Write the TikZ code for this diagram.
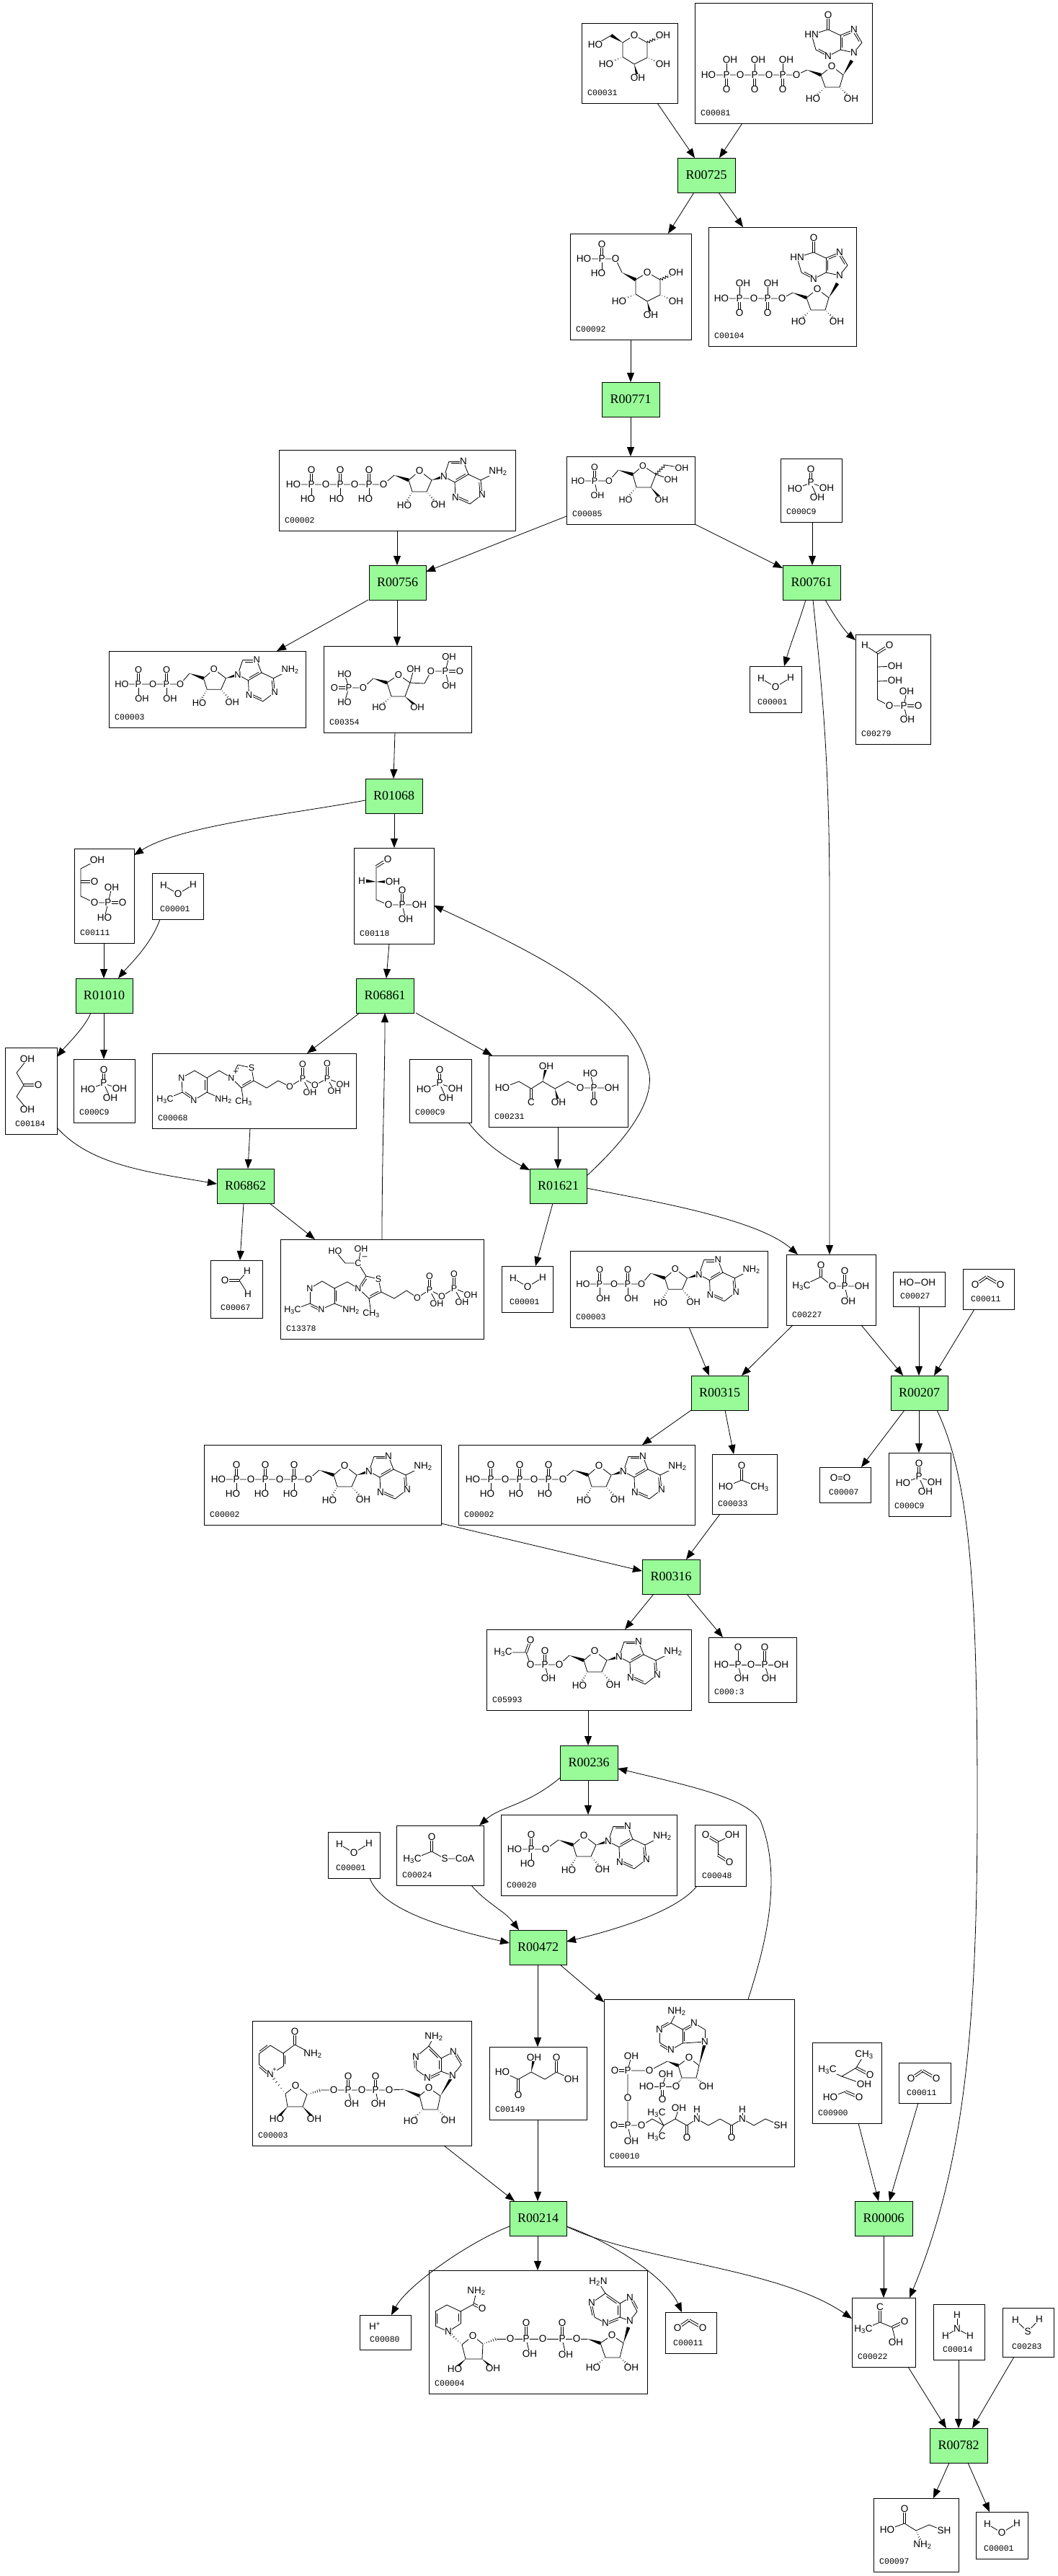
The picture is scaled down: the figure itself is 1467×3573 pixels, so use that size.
\documentclass[tikz,border=0pt]{standalone}
\usepackage{fontspec}
\setmainfont{Liberation Sans}
\newfontfamily\lblfont{Liberation Mono}
\newfontfamily\rxnfont{Liberation Serif}
\usetikzlibrary{arrows.meta,calc,decorations.pathmorphing}
\def\atfs{13.5}
\newcount\atomno
\tikzset{
 cbox/.style={draw=black,line width=1pt,fill=white,inner sep=0pt,outer sep=0pt},
 rbox/.style={draw=black,line width=1pt,fill=rgreen,inner sep=0pt,outer sep=0pt,minimum width=80pt,minimum height=48pt,font=\rxnfont\fontsize{18}{18}\selectfont},
 clabel/.style={anchor=west,inner sep=0pt,font=\lblfont\fontsize{11.5}{11.5}\selectfont},
 atom/.style={fill=white,inner sep=.5pt,font=\fontsize{\atfs}{\atfs}\selectfont},
 bond/.style={line width=.8pt,black},
 arr/.style={line width=.8pt,black,-{Triangle[length=13pt,width=10pt]}},
}
\definecolor{rgreen}{HTML}{98FB98}
\newcommand\atm[3]{\global\advance\atomno by 1 \node[atom] (at\the\atomno) at (#1,#2) {#3};}
\newcommand\mbd[2]{\draw[bond] (#1) -- (#2);}
\newcommand\mln[1]{\draw[bond] #1;}
\newcommand\mdb[2]{\draw[bond] ($(#1)!1.5pt!90:(#2)$) -- ($(#2)!1.5pt!-90:(#1)$);\draw[bond] ($(#1)!1.5pt!-90:(#2)$) -- ($(#2)!1.5pt!90:(#1)$);}
\newcommand\mds[2]{\draw[bond] (#1) -- (#2);\draw[bond] ($(#1)!.15!(#2)!2.6pt!-90:(#2)$) -- ($(#1)!.85!(#2)!2.6pt!-90:(#2)$);}
\newcommand\mwd[2]{\fill[black] (#1) -- ($(#2)!2.4pt!90:(#1)$) -- ($(#2)!2.4pt!-90:(#1)$) -- cycle;}
\newcommand\mhs[2]{\foreach \mt/\mw in {.12/.4,.28/.8,.44/1.2,.6/1.6,.76/2,.92/2.4}{\draw[line width=.6pt] ($(#1)!\mt!(#2)!\mw pt!90:(#2)$) -- ($(#1)!\mt!(#2)!\mw pt!-90:(#2)$);}}
\newcommand\mwv[2]{\draw[bond,decorate,decoration={zigzag,amplitude=1.6pt,segment length=4pt}] (#1) -- (#2);}
\newcommand\cpd[7][8]{}
\renewcommand\cpd[8][8]{\node[cbox,minimum width=#5pt,minimum height=#6pt] (#2) at ({#3+#5/2},{#4+#6/2}) {};
 \node[clabel] (#2l) at ({#3+#1},{#4+#6-14.5}) {#7};
 \begin{scope}[shift={(#3,#4)}]#8\end{scope}}
\newcommand\rxn[4]{\node[rbox,minimum width=#4pt] (#1) at ({#3+#4/2},{#2}) {#1};}
% phosphate helpers
\newcommand\phHO[2]{\begin{scope}[shift={(#1,#2)}]\mdb{0,0}{0,-20}\mbd{0,0}{0,20}\atm{0}{-20}{O}\atm{-5}{20}{HO}\atm{0}{0}{P}\end{scope}}
\newcommand\phOH[2]{\begin{scope}[shift={(#1,#2)}]\mdb{0,0}{0,-20}\mbd{0,0}{0,20}\atm{0}{-20}{O}\atm{5}{20}{OH}\atm{0}{0}{P}\end{scope}}
\newcommand\phI[2]{\begin{scope}[shift={(#1,#2)}]\mdb{0,0}{0,20}\mbd{0,0}{0,-20}\atm{0}{20}{O}\atm{5}{-21}{OH}\atm{0}{0}{P}\end{scope}}
% adenosine, origin at CH2
\newcommand\ado{\mln{(20,7)--(35,-6)--(52,7)--(45,23)--(25,23)--cycle}
 \mwd{0,0}{20,7}\mwd{52,7}{69,2}\mhs{25,23}{14,42}\mhs{45,23}{61,41}
 \mbd{69,2}{76,-19}\mds{76,-19}{96,-19}\mbd{96,-19}{103,-1}\mds{103,-1}{84,10}\mbd{84,10}{69,2}
 \mbd{103,-1}{120,7}\mds{120,7}{122,27}\mbd{122,27}{105,40}\mds{105,40}{85,31}\mbd{85,31}{84,10}\mbd{120,7}{144,-5}
 \atm{35}{-6}{O}\atm{14}{42}{HO}\atm{61}{41}{OH}\atm{69}{2}{N}\atm{96}{-19}{N}\atm{122}{27}{N}\atm{85}{31}{N}\atm{144}{-5}{NH\textsubscript{2}}}
% inosine, origin at CH2
\newcommand\ino{\mln{(19,7)--(34,-5)--(50,7)--(45,24)--(25,24)--cycle}
 \mwd{0,0}{19,7}\mwd{50,7}{62,-13}\mhs{25,24}{8,40}\mhs{45,24}{61,40}
 \mbd{29,-56}{6,-49}\mbd{6,-49}{12,-28}\mds{29,-19}{12,-28}\mbd{29,-19}{46,-28}\mds{46,-28}{46,-48}\mbd{46,-48}{29,-56}
 \mds{46,-48}{65,-56}\mds{65,-56}{76,-38}\mbd{76,-38}{65,-24}\mbd{65,-24}{46,-28}\mdb{29,-56}{29,-76}
 \atm{34}{-5}{O}\atm{8}{40}{HO}\atm{61}{40}{OH}\atm{29}{-76}{O}\atm{6}{-49}{HN}\atm{29}{-19}{N}\atm{65}{-56}{N}\atm{65}{-24}{N}}
% glucose ring, origin at C5
\newcommand\glc{\mln{(0,0)--(16,-10)--(34,0)--(34,21)--(16,30)--(0,20)--cycle}
 \mwv{34,0}{56,-10}\mhs{34,21}{56,30}\mwd{16,30}{21,49}\mhs{0,20}{-23,30}
 \atm{16}{-10}{O}\atm{56}{-10}{OH}\atm{56}{30}{OH}\atm{21}{49}{OH}\atm{-23}{30}{HO}}
\newcommand\molW{\mln{(16,17)--(36,29)--(57,16)}\atm{16}{17}{H}\atm{36}{29}{O}\atm{57}{16}{H}}
\newcommand\molCO{\mdb{17,22}{33,11}\mdb{33,11}{52,22}\atm{17}{22}{O}\atm{52}{22}{O}}
\newcommand\molPi{\mdb{42,34}{42,15}\mbd{42,34}{20,42}\mbd{42,34}{64,41}\mbd{42,34}{51,54}\atm{42}{15}{O}\atm{20}{42}{HO}\atm{64}{41}{OH}\atm{51}{54}{OH}\atm{42}{33}{P}}
\newcommand\molATP{\mln{(20,48)--(145,48)--(160,35)}\phHO{45}{48}\phHO{85}{48}\phHO{125}{48}\atm{20}{48}{HO}\atm{65}{48}{O}\atm{105}{48}{O}\atm{145}{48}{O}\begin{scope}[shift={(160,35)}]\ado\end{scope}}
\newcommand\molADP{\def\atfs{12.8}\mln{(18,46)--(99,46)--(112,31)}\phOH{41}{46}\phOH{80}{46}\atm{18}{46}{HO}\atm{61}{46}{O}\atm{99}{46}{O}\begin{scope}[shift={(112,31)},scale=.97]\ado\end{scope}}
\begin{document}
\begin{tikzpicture}[x=1pt,y=-1pt]
\useasboundingbox (0,0) rectangle (1467,3573);
\fill[white] (0,0) rectangle (1467,3573);
% ---- compounds
\cpd{c31}{807}{33}{133}{110}{C00031}{\mwd{57,26}{41,16}\mbd{41,16}{19,29}\begin{scope}[shift={(57,26)}]\glc\end{scope}\atm{19}{29}{HO}}
\cpd{c81}{964}{5}{246}{166}{C00081}{\mln{(19,99)--(141,99)--(156,92)}\phI{44}{99}\phI{83}{99}\phI{122}{99}\atm{19}{99}{HO}\atm{63}{99}{O}\atm{103}{99}{O}\atm{141}{99}{O}\begin{scope}[shift={(156,92)}]\ino\end{scope}}
\rxn{R00725}{243}{940}{80}
\cpd{c92}{791}{324}{168}{147}{C00092}{\mln{(19,35)--(63,35)--(72,54)}\phHO{44}{35}\mwd{72,54}{91,64}\begin{scope}[shift={(91,64)}]\glc\end{scope}\atm{19}{35}{HO}\atm{63}{35}{O}}
\cpd{c104}{983}{315}{205}{165}{C00104}{\mln{(18,99)--(102,99)--(117,91)}\phI{43}{99}\phI{82}{99}\atm{18}{99}{HO}\atm{63}{99}{O}\atm{102}{99}{O}\begin{scope}[shift={(117,91)}]\ino\end{scope}}
\rxn{R00771}{554}{835}{80}
\cpd{c2a}{387}{624}{328}{112}{C00002}{\molATP}
\cpd{c85}{786}{633}{178}{94}{C00085}{\def\atfs{12.5}\mln{(16,34)--(59,34)--(72,19)}\mdb{39,34}{39,15}\mbd{39,34}{43,54}
 \mwd{72,19}{92,25}\mln{(92,25)--(106,13)--(124,25)--(117,43)--(97,43)--cycle}\mwv{124,25}{137,12}\mbd{137,12}{160,16}\mbd{124,25}{145,32}\mwd{117,43}{132,60}\mhs{97,43}{82,60}
 \atm{16}{34}{HO}\atm{39}{34}{P}\atm{39}{15}{O}\atm{43}{54}{OH}\atm{59}{34}{O}\atm{106}{13}{O}\atm{160}{16}{OH}\atm{145}{32}{OH}\atm{132}{60}{OH}\atm{82}{60}{HO}}
\cpd{c9a}{1083}{636}{85}{88}{C000C9}{\molPi}
\rxn{R00756}{808}{512}{79}
\rxn{R00761}{808}{1086}{80}
\cpd{c3a}{151}{903}{273}{106}{C00003}{\molADP}
\cpd{c354}{449}{896}{205}{120}{C00354}{\def\atfs{13}\mln{(29,39)--(35,58)--(29,78)}\mdb{35,58}{15,58}\mln{(35,58)--(55,58)--(69,45)}\mwd{69,45}{88,51}\mln{(88,51)--(104,40)--(120,51)--(113,70)--(94,70)--cycle}\mbd{120,51}{125,32}\mln{(120,51)--(140,52)--(149,35)--(169,35)}\mbd{169,35}{174,15}\mbd{169,35}{174,55}\mdb{169,35}{189,35}\mwd{113,70}{130,85}\mhs{94,70}{77,85}
 \atm{29}{39}{HO}\atm{35}{58}{P}\atm{15}{58}{O}\atm{29}{78}{HO}\atm{55}{58}{O}\atm{104}{40}{O}\atm{125}{32}{OH}\atm{149}{35}{O}\atm{169}{35}{P}\atm{174}{15}{OH}\atm{189}{35}{O}\atm{174}{55}{OH}\atm{130}{85}{OH}\atm{77}{85}{HO}}
\cpd[11]{c1a}{1040}{924}{72}{64}{C00001}{\molW}
\cpd{c279}{1187}{880}{104}{152}{C00279}{\mbd{13,15}{30,26}\mdb{30,26}{47,15}\mbd{30,26}{30,90}\mbd{30,45}{55,44}\mbd{30,65}{55,64}\mln{(30,90)--(47,99)--(67,99)}\mdb{67,99}{87,99}\mbd{67,99}{71,79}\mbd{67,99}{72,118}
 \atm{13}{15}{H}\atm{47}{15}{O}\atm{55}{44}{OH}\atm{55}{64}{OH}\atm{47}{99}{O}\atm{67}{99}{P}\atm{87}{99}{O}\atm{71}{79}{OH}\atm{72}{118}{OH}}
\rxn{R01068}{1104}{507}{79}
\cpd{c111}{103}{1177}{83}{131}{C00111}{\mln{(32,16)--(9,28)--(9,66)--(28,75)--(47,75)}\mdb{9,46}{28,46}\mdb{47,75}{67,75}\mbd{47,75}{52,54}\mbd{47,75}{42,96}
 \atm{32}{16}{OH}\atm{28}{46}{O}\atm{28}{75}{O}\atm{47}{75}{P}\atm{67}{75}{O}\atm{52}{54}{OH}\atm{42}{96}{HO}}
\cpd[11]{c1b}{211}{1211}{71}{64}{C00001}{\molW}
\cpd{c118}{491}{1176}{111}{133}{C00118}{\mdb{31,26}{47,16}\mln{(31,26)--(31,72)--(48,79)--(67,79)--(91,79)}\mwd{31,47}{17,46}\mwd{31,47}{46,47}\mdb{67,79}{67,59}\mbd{67,79}{72,99}
 \atm{47}{16}{O}\atm{11}{46}{H}\atm{54}{47}{OH}\atm{48}{79}{O}\atm{67}{79}{P}\atm{67}{59}{O}\atm{91}{79}{OH}\atm{72}{99}{OH}}
\rxn{R01010}{1381}{105}{79}
\rxn{R06861}{1381}{494}{80}
\cpd[14]{c184}{7}{1453}{72}{120}{C00184}{\mln{(31,16)--(16,35)--(26,52)--(16,68)--(31,86)}\mdb{26,52}{46,52}\atm{31}{16}{OH}\atm{46}{52}{O}\atm{31}{86}{OH}}
\cpd{c9b}{102}{1469}{85}{88}{C000C9}{\molPi}
\cpd{c68}{211}{1461}{283}{104}{C00068}{\def\atfs{12.5}\mln{(41,34)--(59,24)}\mbd{59,24}{76,34}\mds{76,34}{76,54}\mln{(76,54)--(58,65)}\mds{58,65}{42,54}\mbd{42,54}{41,34}\mbd{42,54}{18,64}\mbd{76,54}{99,64}\mln{(76,34)--(93,24)--(110,34)}\mds{110,34}{119,16}\mln{(119,16)--(138,20)--(141,38)}\mds{141,38}{124,48}\mbd{124,48}{110,34}\mbd{124,48}{127,67}\mln{(141,38)--(159,48)--(175,38)--(191,46)--(209,35)--(226,44)--(243,35)--(265,43)}\mdb{209,35}{209,15}\mbd{209,35}{219,54}\mdb{243,35}{243,14}\mbd{243,35}{253,52}
 \atm{41}{34}{N}\atm{58}{65}{N}\atm{18}{64}{H\textsubscript{3}C}\atm{99}{64}{NH\textsubscript{2}}\atm{110}{34}{N}\atm{116}{26}{+}\atm{138}{20}{S}\atm{127}{67}{CH\textsubscript{3}}\atm{191}{46}{O}\atm{209}{35}{P}\atm{209}{15}{O}\atm{219}{54}{OH}\atm{226}{44}{O}\atm{243}{35}{P}\atm{243}{14}{O}\atm{253}{52}{OH}\atm{265}{43}{OH}}
\cpd{c9c}{568}{1469}{86}{88}{C000C9}{\molPi}
\cpd{c231}{678}{1464}{193}{99}{C00231}{\mln{(19,45)--(42,36)--(59,46)--(75,36)--(92,46)--(110,36)--(127,45)--(146,45)--(171,45)}\mdb{59,46}{59,65}\mwd{75,36}{80,15}\mwd{92,46}{97,65}\mbd{146,45}{141,25}\mdb{146,45}{146,65}
 \atm{19}{45}{HO}\atm{59}{65}{C}\atm{80}{15}{OH}\atm{97}{65}{OH}\atm{127}{45}{O}\atm{146}{45}{P}\atm{141}{25}{HO}\atm{171}{45}{OH}\atm{146}{65}{O}}
\rxn{R06862}{1645}{301}{79}
\rxn{R01621}{1645}{735}{79}
\cpd[14]{c67}{292}{1748}{72}{80}{C00067}{\mdb{20,28}{40,28}\mbd{40,28}{51,15}\mbd{40,28}{52,47}\atm{20}{28}{O}\atm{51}{15}{H}\atm{52}{47}{H}}
\cpd{c13378}{389}{1719}{282}{138}{C13378}{\def\atfs{12.5}\mln{(76,16)--(90,33)--(108,33)--(112,13)}\mln{(108,33)--(119,51)--(136,55)--(140,73)}\mds{140,73}{123,82}\mbd{123,82}{108,68}\mds{108,68}{119,51}\mbd{123,82}{126,103}\mln{(108,68)--(93,59)--(75,68)}\mbd{75,68}{58,58}\mbd{58,58}{41,68}\mds{75,89}{75,68}\mbd{41,68}{41,89}\mds{41,89}{57,97}\mbd{57,97}{75,89}\mbd{41,89}{17,98}\mbd{75,89}{98,98}\mln{(140,73)--(158,82)--(175,71)--(190,81)--(207,70)--(224,79)--(241,68)--(264,77)}\mdb{207,70}{207,51}\mbd{207,70}{217,89}\mdb{241,68}{241,48}\mbd{241,68}{252,87}
 \atm{76}{16}{HO}\atm{112}{13}{OH}\atm{108}{33}{C}\atm{117}{26}{–}\atm{136}{55}{S}\atm{108}{68}{N}\atm{126}{103}{CH\textsubscript{3}}\atm{41}{68}{N}\atm{57}{97}{N}\atm{17}{98}{H\textsubscript{3}C}\atm{98}{98}{NH\textsubscript{2}}\atm{190}{81}{O}\atm{207}{70}{P}\atm{207}{51}{O}\atm{217}{89}{OH}\atm{224}{79}{O}\atm{241}{68}{P}\atm{241}{48}{O}\atm{252}{87}{OH}\atm{264}{77}{OH}}
\cpd[11]{c1c}{696}{1756}{71}{64}{C00001}{\molW}
\cpd{c3b}{791}{1735}{274}{106}{C00003}{\molADP}
\cpd{c227}{1091}{1740}{124}{98}{C00227}{\mln{(21,44)--(48,31)--(64,44)--(105,44)}\mdb{48,31}{48,15}\mdb{81,44}{81,23}\mbd{81,44}{86,65}\atm{21}{44}{H\textsubscript{3}C}\atm{48}{15}{O}\atm{64}{44}{O}\atm{81}{44}{P}\atm{81}{23}{O}\atm{105}{44}{OH}\atm{86}{65}{OH}}
\cpd[10]{c27}{1239}{1764}{72}{48}{C00027}{\mbd{22,15}{46,15}\atm{19}{15}{HO}\atm{49}{15}{OH}}
\cpd[11]{c11a}{1336}{1760}{71}{56}{C00011}{\molCO}
\rxn{R00315}{1932}{959}{79}
\rxn{R00207}{1932}{1236}{79}
\cpd{c2b}{283}{2004}{329}{111}{C00002}{\molATP}
\cpd{c2c}{636}{2004}{328}{111}{C00002}{\molATP}
\cpd{c33}{988}{2017}{90}{83}{C00033}{\mdb{41,36}{41,16}\mbd{41,36}{19,45}\mbd{41,36}{66,46}\atm{41}{16}{O}\atm{19}{45}{HO}\atm{66}{46}{CH\textsubscript{3}}}
\cpd[13]{c7}{1137}{2035}{71}{49}{C00007}{\mdb{22,15}{36,15}\atm{20}{15}{O}\atm{38}{15}{O}}
\cpd{c9d}{1233}{2015}{86}{88}{C000C9}{\molPi}
\rxn{R00316}{2187}{891}{80}
\cpd{c5993}{675}{2260}{284}{112}{C05993}{\mln{(23,32)--(55,32)--(61,49)--(101,49)--(115,36)}\mdb{55,32}{61,15}\mdb{81,49}{81,30}\mbd{81,49}{86,68}\atm{23}{32}{H\textsubscript{3}C}\atm{61}{15}{O}\atm{61}{49}{O}\atm{81}{49}{P}\atm{81}{30}{O}\atm{86}{68}{OH}\atm{101}{49}{O}\begin{scope}[shift={(115,36)}]\ado\end{scope}}
\cpd{c13}{983}{2271}{122}{90}{C000:3}{\mln{(18,38)--(101,38)}\mbd{41,38}{41,14}\mbd{41,38}{46,57}\mdb{78,38}{78,14}\mbd{78,38}{84,57}\atm{18}{38}{HO}\atm{41}{38}{P}\atm{41}{14}{O}\atm{46}{57}{OH}\atm{59}{38}{O}\atm{78}{38}{P}\atm{78}{14}{O}\atm{101}{38}{OH}\atm{84}{57}{OH}}
\rxn{R00236}{2445}{777}{80}
\cpd[11]{c1d}{455}{2541}{72}{64}{C00001}{\molW}
\cpd{c24}{550}{2532}{121}{83}{C00024}{\mdb{49,36}{49,16}\mbd{49,36}{22,47}\mln{(49,36)--(67,46)--(95,46)}\atm{49}{16}{O}\atm{22}{47}{H\textsubscript{3}C}\atm{67}{46}{S}\atm{95}{46}{CoA}}
\cpd{c20}{695}{2517}{244}{112}{C00020}{\mln{(19,48)--(62,48)--(80,35)}\phHO{42}{48}\atm{19}{48}{HO}\atm{62}{48}{O}\begin{scope}[shift={(80,35)}]\ado\end{scope}}
\cpd[10]{c48}{964}{2531}{71}{85}{C00048}{\mdb{15,14}{32,24}\mbd{32,24}{52,14}\mbd{32,24}{32,42}\mdb{32,42}{48,52}\atm{15}{14}{O}\atm{52}{14}{OH}\atm{48}{52}{O}}
\rxn{R00472}{2701}{707}{79}
\cpd{c3c}{350}{2803}{304}{173}{C00003}{\mdb{59,33}{59,15}\mbd{59,33}{84,46}\mbd{59,33}{43,45}
 \mln{(43,45)--(25,34)}\mds{25,34}{9,46}\mbd{9,46}{9,60}\mds{9,60}{25,74}\mbd{25,74}{43,63}\mds{43,63}{43,45}
 \mhs{46,101}{25,74}\mln{(46,101)--(60,90)--(76,102)--(70,119)--(49,119)--cycle}\mwd{49,119}{34,136}\mwd{70,119}{86,136}\mhs{76,102}{95,96}
 \mln{(95,96)--(190,96)--(210,95)}\mdb{133,96}{133,77}\mbd{133,96}{138,115}\mdb{171,96}{171,77}\mbd{171,96}{175,115}
 \mwd{210,95}{232,104}\mln{(232,104)--(245,93)--(261,104)--(257,123)--(237,123)--cycle}\mhs{237,123}{220,139}\mhs{257,123}{272,138}\mwd{261,104}{278,76}
 \mbd{252,22}{245,35}\mds{245,35}{262,52}\mds{262,52}{262,70}\mbd{245,35}{227,50}\mds{227,50}{228,68}\mbd{228,68}{243,79}\mds{243,79}{262,70}\mbd{262,70}{278,76}\mbd{278,76}{290,61}\mds{290,61}{279,43}\mbd{279,43}{262,52}
 \atm{59}{15}{O}\atm{84}{46}{NH\textsubscript{2}}\atm{25}{74}{N}\atm{31}{68}{\fontsize{9}{9}\selectfont +}\atm{60}{90}{O}\atm{34}{136}{HO}\atm{86}{136}{OH}\atm{113}{96}{O}\atm{133}{96}{P}\atm{133}{77}{O}\atm{138}{115}{OH}\atm{152}{96}{O}\atm{171}{96}{P}\atm{171}{77}{O}\atm{175}{115}{OH}\atm{190}{96}{O}\atm{245}{93}{O}\atm{220}{139}{HO}\atm{272}{138}{OH}\atm{278}{76}{N}\atm{252}{22}{NH\textsubscript{2}}\atm{227}{50}{N}\atm{243}{79}{N}\atm{279}{43}{N}}
\cpd{c149}{679}{2839}{135}{101}{C00149}{\mln{(18,35)--(40,45)--(58,35)--(77,45)--(93,35)--(114,45)}\mdb{40,45}{40,67}\mwd{58,35}{62,15}\mdb{93,35}{93,15}\atm{18}{35}{HO}\atm{40}{67}{O}\atm{62}{15}{OH}\atm{93}{15}{O}\atm{114}{45}{OH}}
\cpd{c10}{838}{2773}{264}{232}{C00010}{\mbd{101,17}{93,33}\mds{93,33}{77,42}\mbd{77,42}{77,60}\mds{77,60}{93,70}\mbd{93,70}{109,61}\mds{109,61}{109,42}\mbd{109,42}{93,33}\mds{109,42}{125,33}\mbd{125,33}{140,42}\mbd{140,42}{140,59}\mbd{140,59}{109,61}
 \mwd{132,92}{140,61}\mln{(132,92)--(118,81)--(103,92)--(108,109)--(128,109)--cycle}\mhs{128,109}{142,121}\mhs{108,109}{100,121}\mln{(100,121)--(59,121)}\mbd{81,121}{86,104}\mdb{81,121}{81,139}\mwd{88,86}{103,92}\mln{(88,86)--(63,99)--(33,99)--(33,175)}\mdb{33,99}{15,99}\mbd{33,99}{38,79}\mdb{33,175}{14,175}\mbd{33,175}{38,197}\mln{(33,175)--(52,175)--(67,166)--(83,175)--(99,166)--(115,175)--(129,166)--(145,175)--(161,166)--(177,175)--(192,166)--(208,175)--(224,166)--(245,175)}\mbd{83,175}{73,158}\mbd{83,175}{73,191}\mbd{99,166}{104,151}\mdb{115,175}{115,192}\mdb{177,175}{177,192}\mbd{129,166}{129,153}\mbd{192,166}{192,153}
 \atm{101}{17}{NH\textsubscript{2}}\atm{77}{42}{N}\atm{93}{70}{N}\atm{125}{33}{N}\atm{140}{59}{N}\atm{118}{81}{O}\atm{142}{121}{OH}\atm{100}{121}{O}\atm{81}{121}{P}\atm{59}{121}{HO}\atm{86}{104}{OH}\atm{81}{139}{O}\atm{63}{99}{O}\atm{33}{99}{P}\atm{15}{99}{O}\atm{38}{79}{OH}\atm{33}{137}{O}\atm{33}{175}{P}\atm{14}{175}{O}\atm{38}{197}{OH}\atm{52}{175}{O}\atm{73}{158}{H\textsubscript{3}C}\atm{73}{191}{H\textsubscript{3}C}\atm{104}{151}{OH}\atm{115}{192}{O}\atm{129}{166}{N}\atm{129}{153}{H}\atm{177}{192}{O}\atm{192}{166}{N}\atm{192}{153}{H}\atm{245}{175}{SH}}
\cpd{c900}{1127}{2833}{96}{112}{C00900}{\mln{(21,38)--(41,47)--(61,35)--(72,17)}\mbd{41,47}{72,58}\mdb{61,35}{80,45}\mbd{25,76}{46,68}\mdb{46,68}{65,76}\atm{21}{38}{H\textsubscript{3}C}\atm{72}{17}{CH\textsubscript{3}}\atm{80}{45}{O}\atm{72}{58}{OH}\atm{25}{76}{HO}\atm{65}{76}{O}}
\cpd[11]{c11b}{1247}{2861}{72}{56}{C00011}{\molCO}
\rxn{R00214}{3077}{707}{79}
\rxn{R00006}{3077}{1186}{80}
\cpd[14]{c80}{499}{3211}{71}{48}{C00080}{\atm{21}{15}{H\textsuperscript{+}}}
\cpd{c4}{595}{3149}{303}{171}{C00004}{\mbd{235,16}{245,32}\mds{245,32}{265,46}\mds{265,46}{265,65}\mbd{245,32}{226,45}\mds{226,45}{230,65}\mbd{230,65}{245,73}\mds{245,73}{265,65}\mbd{265,65}{279,70}\mbd{279,70}{289,57}\mds{289,57}{279,38}\mbd{279,38}{265,46}
 \mwd{270,101}{277,79}\mln{(270,101)--(254,90)--(238,101)--(245,121)--(265,121)--cycle}\mhs{245,121}{228,135}\mhs{265,121}{281,135}\mwd{220,95}{238,101}\mln{(220,95)--(94,95)}\mdb{185,95}{185,73}\mbd{185,95}{190,117}\mdb{135,95}{135,73}\mbd{135,95}{140,116}\mhs{75,102}{94,95}
 \mln{(75,102)--(61,91)--(46,103)--(51,123)--(74,123)--cycle}\mwd{51,123}{36,137}\mwd{74,123}{89,136}\mhs{46,103}{27,85}\mbd{27,85}{9,77}\mds{9,77}{9,57}\mbd{9,57}{25,48}\mbd{25,48}{44,57}\mds{44,57}{44,74}\mbd{44,74}{27,85}\mbd{44,57}{62,47}\mdb{62,47}{74,53}\mbd{62,47}{66,29}
 \atm{235}{16}{H\textsubscript{2}N}\atm{226}{45}{N}\atm{245}{73}{N}\atm{279}{38}{N}\atm{279}{70}{N}\atm{254}{90}{O}\atm{228}{135}{HO}\atm{281}{135}{OH}\atm{205}{95}{O}\atm{185}{95}{P}\atm{185}{73}{O}\atm{190}{117}{OH}\atm{158}{95}{O}\atm{135}{95}{P}\atm{135}{73}{O}\atm{140}{116}{OH}\atm{113}{95}{O}\atm{61}{91}{O}\atm{36}{137}{HO}\atm{89}{136}{OH}\atm{27}{85}{N}\atm{74}{53}{O}\atm{66}{29}{NH\textsubscript{2}}}
\cpd[11]{c11c}{923}{3207}{71}{57}{C00011}{\molCO}
\cpd{c22}{1182}{3187}{88}{96}{C00022}{\mdb{39,34}{39,13}\mbd{39,34}{16,44}\mbd{39,34}{56,41}\mdb{56,41}{73,33}\mbd{56,41}{61,62}\atm{39}{13}{C}\atm{16}{44}{H\textsubscript{3}C}\atm{73}{33}{O}\atm{61}{62}{OH}}
\cpd[13]{c14}{1295}{3196}{71}{77}{C00014}{\mbd{33,34}{33,15}\mbd{33,34}{17,44}\mbd{33,34}{51,44}\atm{33}{15}{H}\atm{33}{34}{N}\atm{17}{44}{H}\atm{51}{44}{H}}
\cpd[13]{c283}{1391}{3201}{71}{68}{C00283}{\mln{(18,17)--(35,33)--(51,16)}\atm{18}{17}{H}\atm{35}{33}{S}\atm{51}{16}{H}}
\rxn{R00782}{3392}{1290}{80}
\cpd{c97}{1212}{3465}{118}{102}{C00097}{\mdb{43,35}{43,15}\mbd{43,35}{19,44}\mbd{43,35}{59,45}\mhs{59,45}{68,65}\mln{(59,45)--(77,37)--(98,45)}\atm{43}{15}{O}\atm{19}{44}{HO}\atm{68}{65}{NH\textsubscript{2}}\atm{98}{45}{SH}}
\cpd[11]{c1e}{1354}{3484}{72}{65}{C00001}{\molW}
% ---- connectors
\draw[arr] (912,0 |- c31.south) -- (964,0 |- R00725.north);
\draw[arr] (1030,0 |- c81.south) -- (998,0 |- R00725.north);
\draw[arr] (963,0 |- R00725.south) -- (927,0 |- c92.north);
\draw[arr] (997,0 |- R00725.south) -- (1031,0 |- c104.north);
\draw[arr] (c92.south) -- (R00771.north);
\draw[arr] (R00771.south) -- (c85.north);
\draw[arr] (551,0 |- c2a.south) -- (551,0 |- R00756.north);
\draw[arr] (c85.west |- 0,716) -- (R00756.east |- 0,793);
\draw[arr] (511,0 |- R00756.south) -- (384,0 |- c3a.north);
\draw[arr] (551,0 |- R00756.south) -- (551,0 |- c354.north);
\draw[arr] (964,0 |- c85.south) -- (R00761.west |- 0,788);
\draw[arr] (1127,0 |- c9a.south) -- (1127,0 |- R00761.north);
\draw[arr] (1118,0 |- R00761.south) .. controls (1108,865) and (1098,890) .. (1088,0 |- c1a.north);
\draw[arr] (1145,0 |- R00761.south) .. controls (1158,855) and (1172,875) .. (c279.west |- 0,888);
\draw[arr] (1128,0 |- R00761.south) .. controls (1140,950) and (1151,1050) .. (1151,1250) -- (1151,0 |- c227.north);
\draw[arr] (548,0 |- c354.south) -- (546,0 |- R01068.north);
\draw[arr] (547,0 |- R01068.south) -- (547,0 |- c118.north);
\draw[arr] (R01068.west |- 0,1110) .. controls (400,1130) and (250,1145) .. (c111.east |- 0,1186);
\draw[arr] (144,0 |- c111.south) -- (144,0 |- R01010.north);
\draw[arr] (222,0 |- c1b.south) .. controls (210,1310) and (178,1340) .. (164,0 |- R01010.north);
\draw[arr] (540,0 |- c118.south) -- (536,0 |- R06861.north);
\draw[arr] (126,0 |- R01010.south) .. controls (118,1425) and (92,1450) .. (c184.east |- 0,1466);
\draw[arr] (144,0 |- R01010.south) -- (144,0 |- c9b.north);
\draw[arr] (499,0 |- R06861.south) -- (426,0 |- c68.north);
\draw[arr] (577,0 |- R06861.south) -- (683,0 |- c231.north);
\draw[arr] (530,0 |- c13378.north) .. controls (530,1600) and (534,1500) .. (534,0 |- R06861.south);
\draw[arr] (347,0 |- c68.south) -- (344,0 |- R06862.north);
\draw[arr] (c184.east |- 0,1564) .. controls (125,1615) and (200,1625) .. (R06862.west |- 0,1642);
\draw[arr] (338,0 |- R06862.south) -- (333,0 |- c67.north);
\draw[arr] (374,0 |- R06862.south) -- (437,0 |- c13378.north);
\draw[arr] (650,0 |- c9c.south) .. controls (675,1590) and (710,1610) .. (R01621.west |- 0,1623);
\draw[arr] (774,0 |- c231.south) -- (774,0 |- R01621.north);
\draw[arr] (R01621.east |- 0,1631) .. controls (880,1570) and (905,1525) .. (901,1490) .. controls (880,1390) and (760,1330) .. (c118.east |- 0,1256);
\draw[arr] (767,0 |- R01621.south) -- (743,0 |- c1c.north);
\draw[arr] (R01621.east |- 0,1648) .. controls (900,1665) and (1050,1690) .. (1107,0 |- c227.north);
\draw[arr] (956,0 |- c3b.south) -- (984,0 |- R00315.north);
\draw[arr] (1100,0 |- c227.south) -- (1029,0 |- R00315.north);
\draw[arr] (1195,0 |- c227.south) -- (1253,0 |- R00207.north);
\draw[arr] (1275,0 |- c27.south) -- (1275,0 |- R00207.north);
\draw[arr] (1352,0 |- c11a.south) -- (1296,0 |- R00207.north);
\draw[arr] (959,0 |- R00315.south) -- (891,0 |- c2c.north);
\draw[arr] (1006,0 |- R00315.south) -- (1018,0 |- c33.north);
\draw[arr] (1255,0 |- R00207.south) -- (1195,0 |- c7.north);
\draw[arr] (1275,0 |- R00207.south) -- (1275,0 |- c9d.north);
\draw[arr] (1300,0 |- R00207.south) .. controls (1345,2050) and (1356,2200) .. (1356,2500) .. controls (1356,2800) and (1340,3000) .. (1262,0 |- c22.north);
\draw[arr] (c2b.east |- 0,2113) -- (R00316.west |- 0,2179);
\draw[arr] (999,0 |- c33.south) -- (952,0 |- R00316.north);
\draw[arr] (907,0 |- R00316.south) -- (867,0 |- c5993.north);
\draw[arr] (953,0 |- R00316.south) -- (1003,0 |- c13.north);
\draw[arr] (816,0 |- c5993.south) -- (816,0 |- R00236.north);
\draw[arr] (R00236.west |- 0,2466) .. controls (730,2505) and (695,2505) .. (665,0 |- c24.north);
\draw[arr] (816,0 |- R00236.south) -- (816,0 |- c20.north);
\draw[arr] (1038,0 |- c10.north) .. controls (1065,2690) and (1085,2600) .. (1055,2525) .. controls (1035,2495) and (970,2480) .. (R00236.east |- 0,2453);
\draw[arr] (513,0 |- c1d.south) .. controls (530,2650) and (620,2675) .. (R00472.west |- 0,2695);
\draw[arr] (654,0 |- c24.south) .. controls (675,2640) and (700,2650) .. (720,0 |- R00472.north);
\draw[arr] (967,0 |- c48.south) .. controls (940,2650) and (860,2675) .. (R00472.east |- 0,2693);
\draw[arr] (746,0 |- R00472.south) -- (746,0 |- c149.north);
\draw[arr] (777,0 |- R00472.south) -- (c10.west |- 0,2777);
\draw[arr] (616,0 |- c3c.south) -- (714,0 |- R00214.north);
\draw[arr] (746,0 |- c149.south) -- (746,0 |- R00214.north);
\draw[arr] (1191,0 |- c900.south) -- (1219,0 |- R00006.north);
\draw[arr] (1274,0 |- c11b.south) -- (1234,0 |- R00006.north);
\draw[arr] (1226,0 |- R00006.south) -- (1226,0 |- c22.north);
\draw[arr] (R00214.west |- 0,3088) .. controls (650,3110) and (565,3170) .. (543,0 |- c80.north);
\draw[arr] (746,0 |- R00214.south) -- (746,0 |- c4.north);
\draw[arr] (R00214.east |- 0,3088) .. controls (850,3110) and (925,3160) .. (946,0 |- c11c.north);
\draw[arr] (R00214.east |- 0,3088) .. controls (880,3135) and (1080,3145) .. (c22.west |- 0,3216);
\draw[arr] (1260,0 |- c22.south) -- (1313,0 |- R00782.north);
\draw[arr] (1330,0 |- c14.south) -- (1330,0 |- R00782.north);
\draw[arr] (1407,0 |- c283.south) -- (1349,0 |- R00782.north);
\draw[arr] (1317,0 |- R00782.south) -- (1295,0 |- c97.north);
\draw[arr] (1343,0 |- R00782.south) -- (1373,0 |- c1e.north);
\end{tikzpicture}
\end{document}
